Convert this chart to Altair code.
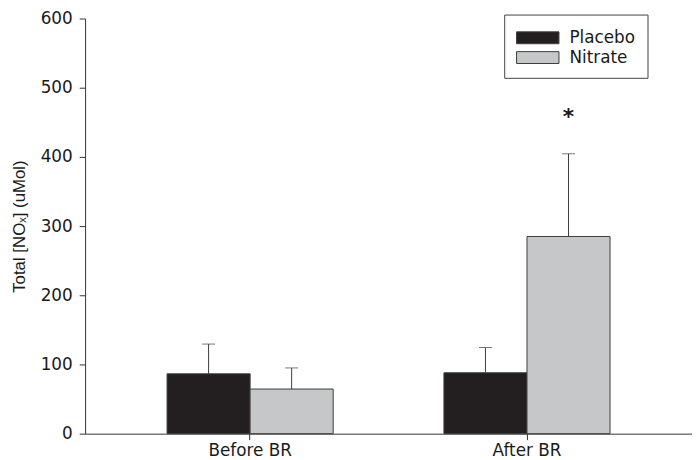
import altair as alt
import pandas as pd

periods = ["Before BR", "Before BR", "After BR", "After BR"]
groups = ["Placebo", "Nitrate", "Placebo", "Nitrate"]
means = [86.5, 64.5, 88.0, 285.0]
upper = [129.5, 95.0, 124.5, 404.5]
marks = ["", "", "", "*"]
mark_y = [None, None, None, 458.0]

period_order = ["Before BR", "After BR"]
group_order = ["Placebo", "Nitrate"]
group_colors = ["#231f20", "#c6c7c9"]
y_ticks = [0, 100, 200, 300, 400, 500, 600]

df = pd.DataFrame({
    "period": periods,
    "group": groups,
    "mean": means,
    "upper": upper,
    "sig": marks,
    "sig_y": mark_y,
})

LABEL_FONT = "DejaVu Sans"
TITLE_FONT = "Liberation Sans"

x_enc = alt.X("period:N", sort=period_order,
              scale=alt.Scale(paddingInner=0.4, paddingOuter=0.296),
              axis=alt.Axis(title=None, labelAngle=0, tickSize=6, labelPadding=3,
                            labelFontSize=17, labelFont=LABEL_FONT))
xo_enc = alt.XOffset("group:N", sort=group_order,
                     scale=alt.Scale(paddingInner=0, paddingOuter=0))
y_scale = alt.Scale(domain=[0, 600], nice=False)

bars = alt.Chart(df).mark_bar(stroke="#3c3c3c", strokeWidth=1).encode(
    x=x_enc,
    xOffset=xo_enc,
    y=alt.Y("mean:Q", scale=y_scale,
            axis=alt.Axis(values=y_ticks, title="Total [NOₓ] (uMol)",
                          titleFont=TITLE_FONT, titleFontSize=17, titleFontWeight="normal",
                          titlePadding=12, titleColor="#1a1a1a",
                          tickSize=6, labelPadding=7, labelFontSize=17,
                          labelFont=LABEL_FONT, grid=False)),
    color=alt.Color("group:N", sort=group_order,
                    scale=alt.Scale(domain=group_order, range=group_colors),
                    legend=alt.Legend(
                        title=None, orient="none", legendX=424, legendY=-4,
                        symbolType="M-1,-0.545L2.9,-0.545L2.9,0.545L-1,0.545Z",
                        symbolSize=484, symbolStrokeColor="#3c3c3c",
                        symbolStrokeWidth=1, symbolOpacity=1,
                        labelFont=LABEL_FONT, labelFontSize=17, labelColor="#1a1a1a",
                        labelOffset=31, rowPadding=-1.5, padding=12,
                        strokeColor="#444444", fillColor="white")),
)

rules = alt.Chart(df).mark_rule(color="#3c3c3c", strokeWidth=1).encode(
    x=alt.X("period:N", sort=period_order),
    xOffset=xo_enc,
    y=alt.Y("mean:Q", scale=y_scale),
    y2="upper:Q",
)

caps = alt.Chart(df).mark_tick(color="#3c3c3c", size=13, thickness=1).encode(
    x=alt.X("period:N", sort=period_order),
    xOffset=xo_enc,
    y=alt.Y("upper:Q", scale=y_scale),
)

stars = alt.Chart(df).transform_filter("datum.sig != ''").mark_text(
    fontSize=22, fontWeight="bold", font=LABEL_FONT, color="#1a1a1a", baseline="middle"
).encode(
    x=alt.X("period:N", sort=period_order),
    xOffset=xo_enc,
    y=alt.Y("sig_y:Q", scale=y_scale),
    text="sig:N",
)

chart = alt.layer(bars, rules, caps, stars).properties(
    width=614, height=420,
    autosize=alt.AutoSizeParams(type="none"),
    padding={"left": 78, "top": 8, "right": 0, "bottom": 24},
).configure_view(stroke=None).configure_axis(
    domainColor="#333333", tickColor="#333333", labelColor="#1a1a1a", domainWidth=1, tickWidth=1
)

chart.save("out.html", embed_options={"renderer": "svg", "actions": False})
